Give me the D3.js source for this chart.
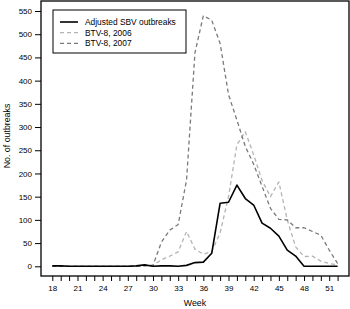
<!DOCTYPE html>
<html>
<head>
<meta charset="utf-8">
<script src="https://cdn.jsdelivr.net/npm/d3@7"></script>
<style>
  body { margin: 0; background: #fff; }
  svg { display: block; font-family: "Liberation Sans", Arial, sans-serif; }
</style>
</head>
<body>
<div id="chart"></div>
<script>
// Weeks 18..52
const weeks = d3.range(18, 53);

const sbv = [1, 1, 0, 0, 0, 0, 0, 0, 0, 0, 1, 3, 0, 1, 1, 0, 2, 8, 9, 28,
  136, 138, 175, 146, 132, 93, 82, 65, 35, 22, 0, 0, 0, 0, 0];

const btv2006 = [0, 0, 0, 0, 0, 0, 0, 0, 0, 0, 0, 1, 2, 14, 22, 31, 75, 37, 26, 32,
  72, 150, 262, 290, 240, 185, 150, 182, 100, 42, 21, 22, 11, 6, 3];

const btv2007 = [0, 0, 0, 0, 0, 0, 0, 0, 0, 0, 0, 1, 2, 52, 78, 90, 186, 460, 540, 530,
  480, 370, 315, 258, 220, 172, 125, 101, 100, 83, 83, 75, 67, 35, 6];

const yTicks = [0, 50, 100, 150, 200, 250, 300, 350, 400, 450, 500, 550];
const xTickLabels = [18, 21, 24, 27, 30, 33, 36, 39, 42, 45, 48, 51];

const seriesNames = ['Adjusted SBV outbreaks', 'BTV-8, 2006', 'BTV-8, 2007'];
const seriesData = [sbv, btv2006, btv2007];
const seriesStyle = [
  { color: '#000', width: 1.6, dash: null },
  { color: '#b4b4b4', width: 1.3, dash: '4,3' },
  { color: '#7a7a7a', width: 1.3, dash: '4,3' }
];

const W = 350, H = 309;
const frame = { left: 41, right: 349, top: 1, bottom: 276 };

const svg = d3.select('#chart').append('svg')
  .attr('width', W)
  .attr('height', H);

const x = d3.scaleLinear().domain([18, 52]).range([52.3, 337.6]);
const y = d3.scaleLinear().domain([0, 550]).range([266.3, 11]);

const line = d3.line()
  .x((d, i) => x(weeks[i]))
  .y(d => y(d));

// draw 2006 first, then 2007, then SBV on top
[1, 2, 0].forEach(k => {
  const s = seriesStyle[k];
  svg.append('path')
    .datum(seriesData[k])
    .attr('d', line)
    .attr('fill', 'none')
    .attr('stroke', s.color)
    .attr('stroke-width', s.width)
    .attr('stroke-dasharray', s.dash)
    .attr('stroke-linejoin', 'round');
});

// Frame box
svg.append('rect')
  .attr('x', frame.left)
  .attr('y', frame.top)
  .attr('width', frame.right - frame.left)
  .attr('height', frame.bottom - frame.top)
  .attr('fill', 'none')
  .attr('stroke', '#000')
  .attr('stroke-width', 1.3);

// Y axis
const yAxis = svg.append('g')
  .attr('transform', `translate(${frame.left},0)`)
  .call(d3.axisLeft(y).tickValues(yTicks).tickSize(6).tickPadding(3));
yAxis.select('.domain').remove();
yAxis.selectAll('line').attr('stroke', '#000').attr('stroke-width', 1);
yAxis.selectAll('text').style('font-size', '8px').attr('fill', '#000');

// X axis: a tick every week, labels every third week
const xAxis = svg.append('g')
  .attr('transform', `translate(0,${frame.bottom})`)
  .call(d3.axisBottom(x).tickValues(weeks).tickSize(5).tickPadding(4)
    .tickFormat(d => xTickLabels.includes(d) ? d : ''));
xAxis.select('.domain').remove();
xAxis.selectAll('line').attr('stroke', '#000').attr('stroke-width', 1);
xAxis.selectAll('text').style('font-size', '8px').attr('fill', '#000');

// Axis titles
svg.append('text')
  .attr('x', (frame.left + frame.right) / 2)
  .attr('y', 306)
  .attr('text-anchor', 'middle')
  .style('font-size', '8.8px')
  .text('Week');

svg.append('text')
  .attr('transform', `translate(10,136) rotate(-90)`)
  .attr('text-anchor', 'middle')
  .style('font-size', '8.8px')
  .text('No. of outbreaks');

// Legend
const legend = svg.append('g').attr('transform', 'translate(53,10)');
legend.append('rect')
  .attr('width', 133)
  .attr('height', 43)
  .attr('fill', '#fff')
  .attr('stroke', '#000')
  .attr('stroke-width', 1);

seriesNames.forEach((name, i) => {
  const s = seriesStyle[i];
  const row = legend.append('g').attr('transform', `translate(0,${12 + i * 10.7})`);
  row.append('line')
    .attr('x1', 7).attr('x2', 25)
    .attr('stroke', s.color)
    .attr('stroke-width', s.width)
    .attr('stroke-dasharray', s.dash);
  row.append('text')
    .attr('x', 32)
    .attr('y', 3)
    .style('font-size', '8.4px')
    .text(name);
});
</script>
</body>
</html>
